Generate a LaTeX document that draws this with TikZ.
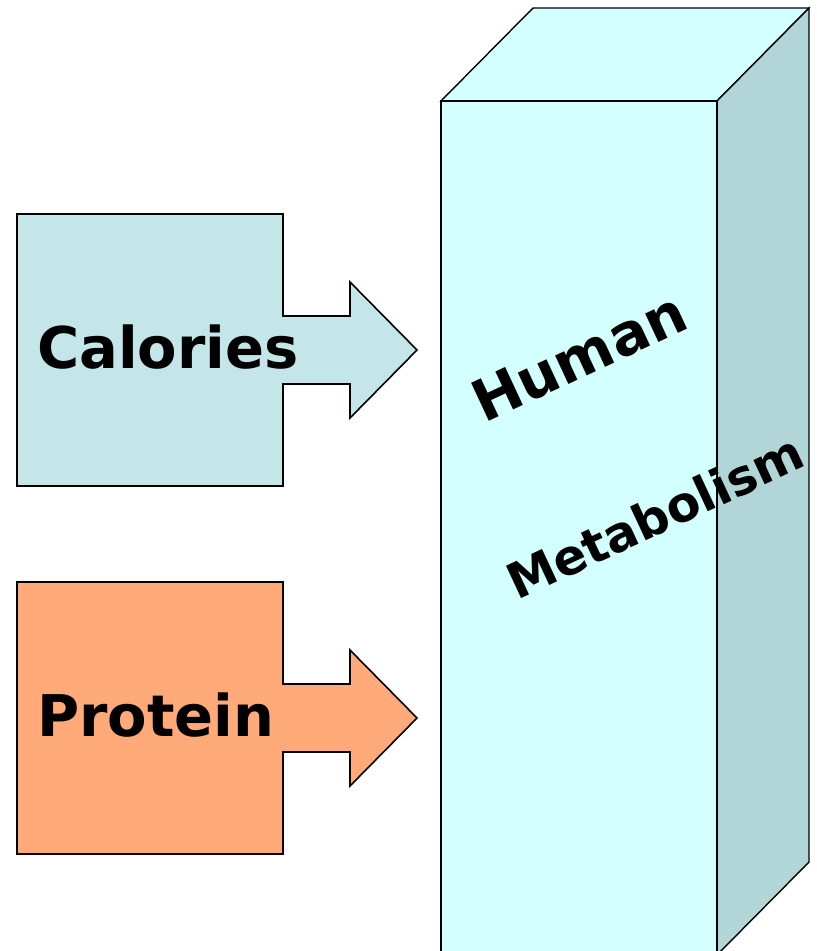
\documentclass[tikz,border=0pt]{standalone}
\usepackage{fontspec}
\setmainfont{DejaVu Sans}
\usetikzlibrary{positioning}
\definecolor{calBlue}{RGB}{196, 230, 232}
\definecolor{protOrange}{RGB}{255, 170, 120}
\definecolor{cubeFront}{RGB}{212, 255, 255}
\definecolor{cubeSide}{RGB}{178, 213, 215}

\begin{document}
\begin{tikzpicture}[
        x=1pt, y=-1pt,
        inArrow/.style={draw=black, line width=1.6pt, line join=miter},
        cubeFace/.style={draw=black, line width=1.4pt, line join=miter},
        bigText/.style={font=\bfseries\fontsize{57.5}{60}\selectfont, inner sep=0pt, anchor=base west},
        tiltText/.style={font=\bfseries\fontsize{#1}{#1}\selectfont, inner sep=0pt, anchor=base west, rotate=25}
    ]
        \useasboundingbox (0,0) rectangle (817,951);

        % input boxes with their arrows
        \foreach \y/\col/\name/\txt in {214/calBlue/cal/Calories, 582/protOrange/prot/Protein} {
            \begin{scope}[shift={(17,\y)}]
                \draw[inArrow, fill=\col] (0,0) -- (266,0) -- (266,102) -- (333,102) -- (333,68)
                    -- (400,136) -- (333,204) -- (333,170) -- (266,170) -- (266,272) -- (0,272) -- cycle;
                \node[bigText] (\name) at (20,154) {\txt};
            \end{scope}
        }

        % metabolism block
        \begin{scope}
            \clip (0,0) rectangle (817,951);
            \draw[cubeFace, fill=cubeFront] (441,101) -- (533,8) -- (809,8) -- (717,101) -- cycle;
            \draw[cubeFace, fill=cubeSide] (717,101) -- (809,8) -- (809,862) -- (717,955) -- cycle;
            \draw[cubeFace, line width=2.2pt, fill=cubeFront] (441,960) -- (441,101) -- (717,101) -- (717,960);
        \end{scope}

        \node[tiltText=57.5] (human) at (484,424) {Human};
        \node[tiltText=49] (metab) at (517,601) {Metabolism};
    \end{tikzpicture}
\end{document}
